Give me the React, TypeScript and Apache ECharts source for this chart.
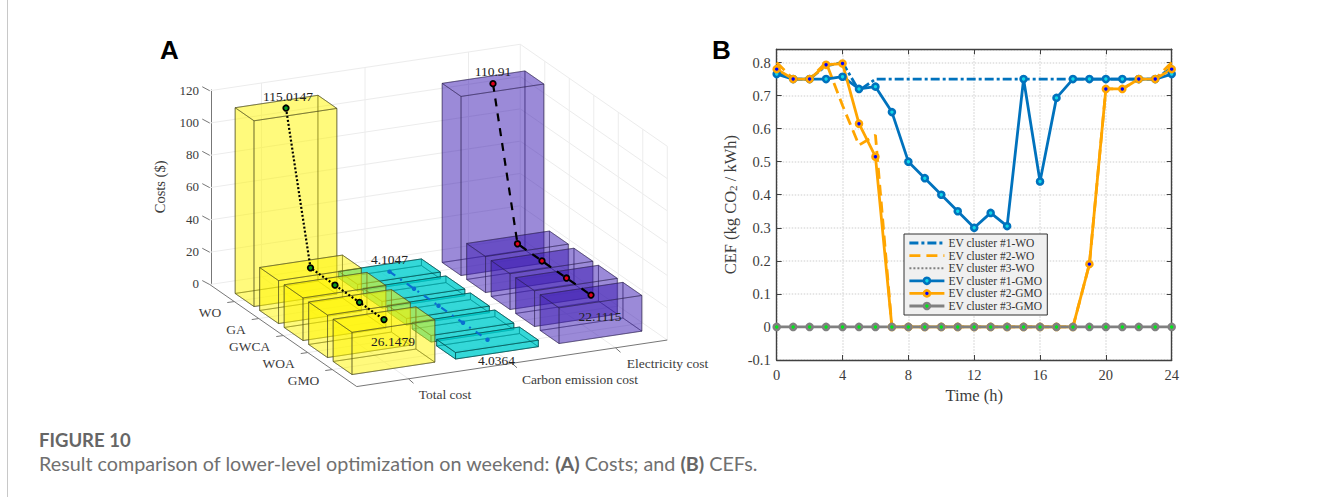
import React, { useEffect, useRef } from "react";
import * as echarts from "echarts";

const methods = ["WO", "GA", "GWCA", "WOA", "GMO"];
const costTypes = ["Total cost", "Carbon emission cost", "Electricity cost"];
const totalCost = [115.0147, 26.6, 26.4, 26.3, 26.1479];
const carbonCost = [4.1047, 4.09, 4.07, 4.05, 4.0364];
const electricityCost = [110.91, 22.3, 22.2, 22.15, 22.1115];
const costTicks = [0, 20, 40, 60, 80, 100, 120];

const hours = [0, 1, 2, 3, 4, 5, 6, 7, 8, 9, 10, 11, 12, 13, 14, 15, 16, 17, 18, 19, 20, 21, 22, 23, 24];
const ev1Wo = [0.77, 0.75, 0.75, 0.79, 0.8, 0.715, 0.75, 0.75, 0.75, 0.75, 0.75, 0.75, 0.75, 0.75, 0.75, 0.75, 0.75, 0.75, 0.75, 0.75, 0.75, 0.75, 0.75, 0.75, 0.785];
const ev2Wo = [0.8, 0.75, 0.75, 0.8, 0.67, 0.55, 0.58, 0, 0, 0, 0, 0, 0, 0, 0, 0, 0, 0, 0, 0.19, 0.72, 0.72, 0.75, 0.75, 0.8];
const ev3Wo = hours.map(() => 0);
const ev1Gmo = [0.765, 0.75, 0.75, 0.75, 0.757, 0.72, 0.727, 0.65, 0.5, 0.45, 0.4, 0.35, 0.3, 0.345, 0.305, 0.75, 0.44, 0.693, 0.75, 0.75, 0.75, 0.75, 0.75, 0.75, 0.765];
const ev2Gmo = [0.78, 0.75, 0.75, 0.793, 0.797, 0.615, 0.515, 0, 0, 0, 0, 0, 0, 0, 0, 0, 0, 0, 0, 0.19, 0.72, 0.72, 0.75, 0.75, 0.78];
const ev3Gmo = hours.map(() => 0);

const SERIF = "'Liberation Serif', 'Times New Roman', serif";
const SANS = "'Liberation Sans', Arial, sans-serif";
const CAPTION = "Lato, 'Open Sans', sans-serif";
const TXT = "#3c3c3c";

// oblique projection of panel A (method index m, cost index c, value v)
const AXIS_X = 211;
const AXIS_Y0 = 283;
const PX_PER_COST = 1.615;
const M = [24.5, 17];
const C = [103.5, -15.5];
const ORIGIN = [158, 291.5];
const project = (m: number, c: number, v: number): [number, number] => {
  const sx = ORIGIN[0] + m * M[0] + c * C[0];
  const sy = ORIGIN[1] + m * M[1] + c * C[1];
  return [sx - AXIS_X, (AXIS_Y0 - sy) / PX_PER_COST + v];
};
const C_MIN = 0.5, C_MAX = 3.5, M_MIN = 0, M_MAX = 6, DM = 0.385, DC = 0.4;

const boxSeries = (c: number, values: number[], fill: string, stroke: string) => ({
  type: "custom",
  xAxisIndex: 0,
  yAxisIndex: 0,
  silent: true,
  data: values.map((v, i) => [i + 1, c, v]),
  renderItem: (_p: any, api: any) => {
    const m = api.value(0), cc = api.value(1), v = api.value(2);
    const pt = (a: number, b: number, z: number) => api.coord(project(m + a * DM, cc + b * DC, z));
    const faces = [
      [pt(-1, -1, 0), pt(1, -1, 0), pt(1, 1, 0), pt(-1, 1, 0)],
      [pt(-1, -1, 0), pt(-1, 1, 0), pt(-1, 1, v), pt(-1, -1, v)],
      [pt(-1, 1, 0), pt(1, 1, 0), pt(1, 1, v), pt(-1, 1, v)],
      [pt(-1, -1, 0), pt(1, -1, 0), pt(1, -1, v), pt(-1, -1, v)],
      [pt(1, -1, 0), pt(1, 1, 0), pt(1, 1, v), pt(1, -1, v)],
      [pt(-1, -1, v), pt(1, -1, v), pt(1, 1, v), pt(-1, 1, v)],
    ];
    return {
      type: "group",
      children: faces.map((points) => ({
        type: "polygon",
        shape: { points },
        style: { fill, stroke, lineWidth: 0.9 },
      })),
    };
  },
});

const pathSeries = (c: number, values: number[], name: string, color: string, lineType: any, fill: string, ring: string, size: number, ringWidth: number, first: number[], last: number[]) => ({
  type: "line",
  name,
  xAxisIndex: 0,
  yAxisIndex: 0,
  clip: false,
  symbol: "circle",
  symbolSize: size,
  showSymbol: true,
  lineStyle: { color, width: 2.2, type: lineType },
  itemStyle: { color: fill, borderColor: ring, borderWidth: ringWidth },
  data: values.map((v, i) => {
    const showLabel = i === 0 || i === values.length - 1;
    return {
      value: project(i + 1, c, v),
      label: showLabel
        ? {
            show: true,
            position: "inside",
            offset: i === 0 ? first : last,
            formatter: String(v),
            fontFamily: SERIF,
            fontSize: 13.5,
            color: "#222",
          }
        : { show: false },
    };
  }),
});

const frameSeries = {
  type: "custom",
  xAxisIndex: 0,
  yAxisIndex: 0,
  silent: true,
  data: [[0, 0]],
  renderItem: (_p: any, api: any) => {
    const P = (m: number, c: number, v: number) => api.coord(project(m, c, v));
    const seg = (a: number[], b: number[], stroke: string, lineWidth = 1) => ({
      type: "line",
      shape: { x1: a[0], y1: a[1], x2: b[0], y2: b[1] },
      style: { stroke, lineWidth },
    });
    const light = "#ececec";
    const axis = "#777777";
    const children: any[] = [];
    const top = costTicks[costTicks.length - 1];
    costTicks.slice(1).forEach((v) => {
      children.push(seg(P(M_MIN, C_MIN, v), P(M_MIN, C_MAX, v), light));
      children.push(seg(P(M_MIN, C_MAX, v), P(M_MAX, C_MAX, v), light));
    });
    children.push(seg(P(M_MIN, C_MAX, 0), P(M_MIN, C_MAX, top), light));
    children.push(seg(P(M_MAX, C_MAX, 0), P(M_MAX, C_MAX, top), light));
    costTypes.forEach((_, i) => {
      children.push(seg(P(M_MIN, i + 1, 0), P(M_MIN, i + 1, top), light));
      children.push(seg(P(M_MIN, i + 1, 0), P(M_MAX, i + 1, 0), light));
    });
    methods.forEach((_, i) => {
      children.push(seg(P(i + 1, C_MAX, 0), P(i + 1, C_MAX, top), light));
      children.push(seg(P(i + 1, C_MIN, 0), P(i + 1, C_MAX, 0), light));
    });
    children.push(seg(P(M_MIN, C_MIN, 0), P(M_MIN, C_MAX, 0), light));
    children.push(seg(P(M_MIN, C_MAX, 0), P(M_MAX, C_MAX, 0), light));
    // slanted ticks of the vertical cost axis
    costTicks.forEach((v) => {
      const p = P(M_MIN, C_MIN, v);
      children.push(seg(p, [p[0] - 7.5, p[1] - 4], axis));
    });
    // floor axes
    children.push(seg(P(M_MIN, C_MIN, 0), P(M_MAX, C_MIN, 0), axis));
    children.push(seg(P(M_MAX, C_MIN, 0), P(M_MAX, C_MAX, 0), axis));
    methods.forEach((name, i) => {
      const p = P(i + 1, C_MIN, 0);
      children.push(seg(p, [p[0] - 7, p[1] + 1], axis));
      children.push({
        type: "text",
        x: p[0] - 13,
        y: p[1] + 10.5,
        style: { text: name, fontFamily: SERIF, fontSize: 13.5, fill: TXT, align: "right", verticalAlign: "middle" },
      });
    });
    const labelOffset = [[36.5, 16], [68, 16], [52, 16]];
    costTypes.forEach((name, i) => {
      const p = P(M_MAX, i + 1, 0);
      children.push(seg(p, [p[0] + 5, p[1] + 4.5], axis));
      children.push({
        type: "text",
        x: p[0] + labelOffset[i][0],
        y: p[1] + labelOffset[i][1],
        style: { text: name, fontFamily: SERIF, fontSize: 13.5, fill: TXT, align: "center", verticalAlign: "middle" },
      });
    });
    return { type: "group", children };
  },
};

const gmoLine = (name: string, data: number[], color: string, fill: string) => ({
  type: "line",
  name,
  xAxisIndex: 1,
  yAxisIndex: 1,
  data: data.map((v, i) => [hours[i], v]),
  symbol: "circle",
  symbolSize: 6,
  showSymbol: true,
  lineStyle: { color, width: 2.8 },
  itemStyle: { color: fill, borderColor: color, borderWidth: 2.6 },
  clip: false,
});
const woLine = (name: string, data: number[], color: string, type: any, width = 2.8) => ({
  type: "line",
  name,
  xAxisIndex: 1,
  yAxisIndex: 1,
  data: data.map((v, i) => [hours[i], v]),
  symbol: "none",
  showSymbol: false,
  lineStyle: { color, width, type },
  itemStyle: { color: "transparent", borderWidth: 0 },
  clip: false,
});

const axisFrame = "#404040";
const gridLine = { color: "#dedede", type: "dotted", width: 1.5 };
const legendNames = ["EV cluster #1-WO", "EV cluster #2-WO", "EV cluster #3-WO", "EV cluster #1-GMO", "EV cluster #2-GMO", "EV cluster #3-GMO"];

const option: any = {
  animation: false,
  backgroundColor: "#ffffff",
  grid: [
    { left: AXIS_X, top: 90, width: 456, height: 193.8 },
    { left: 776.7, top: 49.3, width: 395, height: 310.7 },
  ],
  xAxis: [
    { gridIndex: 0, type: "value", min: 0, max: 456, show: false },
    {
      gridIndex: 1,
      type: "value",
      min: 0,
      max: 24,
      interval: 4,
      name: "Time (h)",
      nameLocation: "middle",
      nameGap: 25,
      nameTextStyle: { fontFamily: SERIF, fontSize: 16.5, color: TXT },
      axisLine: { show: true, onZero: false, lineStyle: { color: axisFrame, width: 1.4 } },
      axisTick: { show: true, inside: true, length: 5, lineStyle: { color: axisFrame } },
      axisLabel: { fontFamily: SERIF, fontSize: 14.5, color: TXT, margin: 7 },
      splitLine: { show: true, lineStyle: gridLine },
    },
    {
      gridIndex: 1,
      type: "value",
      position: "top",
      min: 0,
      max: 24,
      interval: 4,
      axisLine: { show: true, onZero: false, lineStyle: { color: axisFrame, width: 1.4 } },
      axisTick: { show: true, inside: true, length: 5, lineStyle: { color: axisFrame } },
      axisLabel: { show: false },
      splitLine: { show: false },
    },
  ],
  yAxis: [
    {
      gridIndex: 0,
      type: "value",
      min: 0,
      max: 120,
      interval: 20,
      name: "Costs ($)",
      nameLocation: "middle",
      nameRotate: 90,
      nameGap: 44,
      nameTextStyle: { fontFamily: SERIF, fontSize: 14.5, color: TXT },
      axisLine: { show: true, onZero: false, lineStyle: { color: "#777777", width: 1 } },
      axisTick: { show: false },
      axisLabel: { fontFamily: SERIF, fontSize: 13, color: TXT, margin: 12, padding: [0, 0, 12, 0] },
      splitLine: { show: false },
    },
    {
      gridIndex: 1,
      type: "value",
      min: -0.1,
      max: 0.84,
      interval: 0.1,
      name: "CEF (kg CO{sub|2} / kWh)",
      nameLocation: "middle",
      nameRotate: 90,
      nameGap: 38,
      nameTextStyle: {
        fontFamily: SERIF,
        fontSize: 16.5,
        color: TXT,
        rich: { sub: { fontFamily: SERIF, fontSize: 11, color: TXT, verticalAlign: "bottom", padding: [6, 0, 0, 0] } },
      },
      axisLine: { show: true, onZero: false, lineStyle: { color: axisFrame, width: 1.4 } },
      axisTick: { show: true, inside: true, length: 5, lineStyle: { color: axisFrame } },
      axisLabel: {
        fontFamily: SERIF,
        fontSize: 14.5,
        color: TXT,
        margin: 6,
        showMaxLabel: false,
        formatter: (v: number) => (Math.abs(v) < 1e-9 ? "0" : String(Math.round(v * 10) / 10)),
      },
      splitLine: { show: true, lineStyle: gridLine },
    },
    {
      gridIndex: 1,
      type: "value",
      position: "right",
      min: -0.1,
      max: 0.84,
      interval: 0.1,
      axisLine: { show: true, onZero: false, lineStyle: { color: axisFrame, width: 1.4 } },
      axisTick: { show: true, inside: true, length: 5, lineStyle: { color: axisFrame } },
      axisLabel: { show: false },
      splitLine: { show: false },
    },
  ],
  legend: {
    data: legendNames,
    orient: "vertical",
    left: 904,
    top: 234,
    width: 143,
    padding: [3, 5, 3, 4],
    itemWidth: 35,
    itemHeight: 7.5,
    itemGap: 0.6,
    symbolKeepAspect: true,
    lineStyle: { width: "inherit" },
    itemStyle: { borderWidth: "inherit" },
    backgroundColor: "#f0f0f0",
    borderColor: "#333333",
    borderWidth: 1,
    textStyle: { fontFamily: SERIF, fontSize: 11.5, color: "#333333", padding: [0, 0, 0, -1] },
  },
  graphic: [
    { type: "text", x: 160, y: 37, style: { text: "A", fontFamily: SANS, fontWeight: "bold", fontSize: 26, fill: "#000" } },
    { type: "text", x: 712, y: 37, style: { text: "B", fontFamily: SANS, fontWeight: "bold", fontSize: 26, fill: "#000" } },
    { type: "line", shape: { x1: 7.5, y1: 0, x2: 7.5, y2: 497 }, style: { stroke: "#c8c8c8", lineWidth: 1 } },
    { type: "text", x: 39, y: 430, style: { text: "FIGURE 10", fontFamily: CAPTION, fontWeight: "bold", fontSize: 18.5, fill: "#666666" } },
    {
      type: "text",
      x: 39,
      y: 453,
      style: {
        text: "Result comparison of lower-level optimization on weekend: {b|(A)} Costs; and {b|(B)} CEFs.",
        fontFamily: CAPTION,
        fontSize: 19.75,
        fill: "#707070",
        rich: { b: { fontFamily: CAPTION, fontWeight: "bold", fontSize: 19.75, fill: "#666666" } },
      },
    },
  ],
  series: [
    frameSeries,
    boxSeries(3, electricityCost, "rgba(59,28,180,0.3)", "rgba(40,30,70,0.45)"),
    boxSeries(2, carbonCost, "rgba(0,205,205,0.55)", "rgba(0,70,70,0.65)"),
    boxSeries(1, totalCost, "rgba(255,245,0,0.3)", "rgba(70,70,30,0.55)"),
    pathSeries(3, electricityCost, "Electricity path", "#000000", [8, 7], "#e0001a", "#000000", 5.5, 1.8, [0, -12], [9, 21]),
    pathSeries(2, carbonCost, "Carbon path", "#0a6fd0", [7, 6, 2, 6], "#0a6fd0", "#0a6fd0", 4.5, 0, [0, -12], [9, 21]),
    pathSeries(1, totalCost, "Total path", "#000000", [2, 2], "#0a9a20", "#000000", 5.5, 1.8, [2, -12], [9, 22]),
    woLine(legendNames[0], ev1Wo, "#0072BD", [9, 3, 3, 3]),
    woLine(legendNames[1], ev2Wo, "#FFA500", [11, 6]),
    woLine(legendNames[2], ev3Wo, "#808080", [2, 2], 2),
    gmoLine(legendNames[3], ev1Gmo, "#0072BD", "#10d8e8"),
    gmoLine(legendNames[4], ev2Gmo, "#FFA500", "#0000ff"),
    gmoLine(legendNames[5], ev3Gmo, "#808080", "#00e81a"),
  ],
};

export default function App() {
  const ref = useRef<HTMLDivElement>(null);
  useEffect(() => {
    const chart = echarts.init(ref.current!, undefined, { renderer: "svg" });
    chart.setOption(option);
    return () => chart.dispose();
  }, []);
  return <div ref={ref} style={{ position: "fixed", left: 0, top: 0, width: 1331, height: 497, background: "#fff" }} />;
}
